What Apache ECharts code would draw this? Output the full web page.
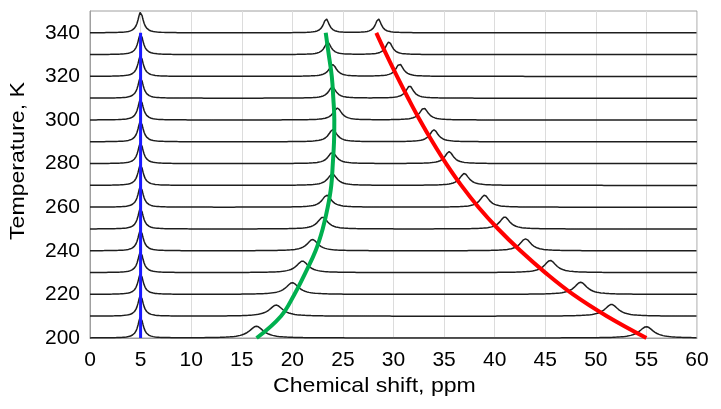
<!DOCTYPE html>
<html>
<head>
<meta charset="utf-8">
<script src="https://cdn.jsdelivr.net/npm/echarts@6/dist/echarts.min.js"></script>
<style>
html,body{margin:0;padding:0;background:#fff;}
#chart{width:721px;height:409px;}
</style>
</head>
<body>
<div id="chart"></div>
<script>
// Temperatures (K) of the stacked spectra
var temperatures = [200,210,220,230,240,250,260,270,280,290,300,310,320,330,340];
// Reference peak (blue) position, ppm
var refPeak = [5,5,5,5,5,5,5,5,5,5,5,5,5,5,5];
var refHeight = [9.6,9.6,9.6,9.6,9.6,9.6,9.6,9.6,9.6,9.6,9.6,9.6,9.6,9.6,9.6];
var refWidth = [0.32,0.32,0.32,0.32,0.32,0.32,0.32,0.32,0.32,0.32,0.32,0.32,0.32,0.32,0.32];
// Peak A (green trend) positions, ppm
var peakA = [16.45,18.4,20.0,21.0,22.0,23.0,23.4,23.95,23.95,24.0,24.45,23.95,24.0,23.5,23.35];
var heightA = [5.4,5.1,5.4,5.3,5.2,5.4,5.5,5.2,5.2,5.6,5.5,5.1,5.4,5.6,6.4];
// Peak B (red trend) positions, ppm
var peakB = [55.0,51.55,48.5,45.5,43.05,41.0,39.0,37.0,35.5,34.0,33.0,31.6,30.6,29.55,28.5];
var heightB = [5.2,5.4,5.6,5.6,5.5,5.5,5.5,5.5,5.5,5.5,5.5,5.6,5.7,5.8,6.4];
var widthAB = [0.85,0.8,0.75,0.7,0.65,0.6,0.55,0.55,0.5,0.5,0.5,0.45,0.45,0.4,0.35];
// Trend lines [ppm, K]
var blueTrend = [[5,200],[5,340]];
var greenTrend = [[16.47,200],[18.87,210],[20.2,220],[21.3,230],[22.3,240],[23.0,250],[23.5,260],[23.85,270],[24.0,280],[24.12,290],[24.15,300],[24.05,310],[23.9,320],[23.6,330],[23.3,340]];
var redTrend = [[55.0,200],[51.1,210],[47.75,220],[45.0,230],[42.55,240],[40.35,250],[38.4,260],[36.7,270],[35.2,280],[33.85,290],[32.6,300],[31.45,310],[30.35,320],[29.3,330],[28.3,340]];
var xTicks = [0,5,10,15,20,25,30,35,40,45,50,55,60];
var yTickLabels = [200,220,240,260,280,300,320,340];

function lor(x, p, h, w){ var d=(x-p)/w; return h/(1+d*d); }

var series = [];
temperatures.forEach(function(T, i){
  var pts = [];
  for (var k=0;k<=1200;k++){
    var x = k*0.05;
    var y = T + lor(x, refPeak[i], refHeight[i], refWidth[i])
              + lor(x, peakA[i], heightA[i], widthAB[i])
              + lor(x, peakB[i], heightB[i], widthAB[i]);
    pts.push([x, y]);
  }
  series.push({type:'line', data:pts, showSymbol:false, silent:true, z:2,
    lineStyle:{color:'#1e1e1e', width:1.5}});
});
series.push({type:'line', data:blueTrend, showSymbol:false, silent:true, z:5,
  lineStyle:{color:'#1a1aff', width:3}});
series.push({type:'line', data:greenTrend, smooth:0.4, showSymbol:false, silent:true, z:5,
  lineStyle:{color:'#00b04f', width:4}});
series.push({type:'line', data:redTrend, smooth:0.4, showSymbol:false, silent:true, z:5,
  lineStyle:{color:'#ff0000', width:4}});

var font = '"Liberation Sans", Arial, sans-serif';
var chart = echarts.init(document.getElementById('chart'), null, {renderer:'canvas'});
chart.setOption({
  animation:false,
  backgroundColor:'#ffffff',
  grid:{left:90, right:24, top:11, bottom:71, show:true, borderColor:'#a0a0a0', borderWidth:1},
  xAxis:{type:'value', min:xTicks[0], max:xTicks[xTicks.length-1], interval:5,
    axisLine:{show:true, lineStyle:{color:'#a0a0a0'}}, axisTick:{show:false},
    splitLine:{show:true, lineStyle:{color:'#dcdcdc', width:1}},
    axisLabel:{color:'#000', fontSize:21, fontFamily:font, margin:12}},
  yAxis:{type:'value', min:200, max:350, interval:10,
    axisLine:{show:true, lineStyle:{color:'#a0a0a0'}}, axisTick:{show:false},
    splitLine:{show:false},
    axisLabel:{color:'#000', fontSize:21, fontFamily:font, margin:10,
      formatter:function(v){ return yTickLabels.indexOf(v)>=0 ? String(v) : ''; }}},
  graphic:[
    {type:'text', left:273, top:376, style:{text:'Chemical shift, ppm', font:'21px '+font, fill:'#000'}, scaleX:1.1},
    {type:'text', x:8, y:240, rotation:Math.PI/2, style:{text:'Temperature, K', font:'21px '+font, fill:'#000'}, scaleX:1.1}
  ],
  series:series
});
</script>
</body>
</html>
